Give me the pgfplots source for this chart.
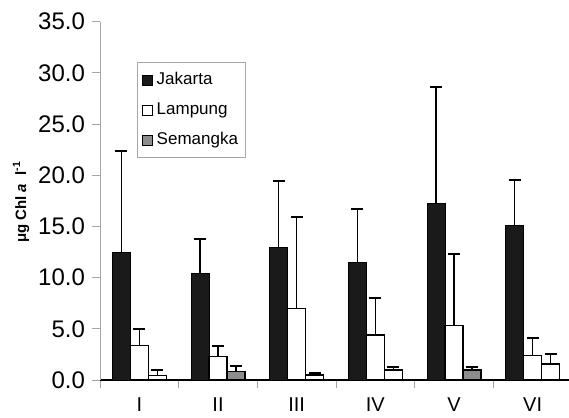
\documentclass[border=0pt]{standalone}
\usepackage{fontspec}
\setmainfont{Liberation Sans}
\usepackage{pgfplots}
\usepackage{pgfplotstable}
\pgfplotsset{compat=1.18}
\definecolor{jak}{HTML}{1A1A1A}
\definecolor{sem}{HTML}{8C8C8C}
\definecolor{axgray}{HTML}{A6A6A6}
\pgfplotstableread{
x y e
1 12.5 9.9
2 10.4 3.4
3 12.9 6.5
4 11.5 5.2
5 17.2 11.45
6 15.1 4.45
}\jakarta
\pgfplotstableread{
x y e
1 3.35 1.63
2 2.30 1.05
3 7.00 8.95
4 4.40 3.60
5 5.35 6.92
6 2.40 1.70
}\lampung
\pgfplotstableread{
x y e
1 0.46 0.48
3 0.50 0.15
4 0.98 0.26
6 1.56 1.00
}\semwhite
\pgfplotstableread{
x y e
2 0.81 0.56
5 0.98 0.26
}\semgrey
\pgfplotsset{sqlegend/.style={legend image code/.code={\draw[##1, line width=0.6pt] (0pt,-2.5pt) rectangle (5pt,2.5pt);}}}
\begin{document}
\begin{tikzpicture}
\begin{axis}[
  scale only axis, width=236pt, height=179.15pt,
  xmin=0.5, xmax=6.5, ymin=0, ymax=35,
  axis x line=bottom, axis y line=left,
  x axis line style={-, black, line width=0.7pt},
  y axis line style={-, axgray, line width=0.5pt},
  ytick={0,5,...,35},
  /pgf/number format/fixed,
  /pgf/number format/fixed zerofill,
  /pgf/number format/precision=1,
  /pgf/number format/assume math mode=true,
  yticklabel style={font=\fontsize{12}{14}\selectfont},
  tick align=outside, major tick length=4pt, minor tick length=4pt,
  xtick={1,...,6}, xticklabels={I,II,III,IV,V,VI},
  minor xtick={0.5,1.5,...,6.5},
  major x tick style={draw=none},
  minor x tick style={axgray, line width=0.5pt},
  ytick style={axgray, line width=0.5pt},
  xticklabel style={font=\fontsize{10}{12}\selectfont, yshift=-1.5pt},
  ylabel={\bfseries μg Chl \textit{a}\; l\textsuperscript{-1}},
  ylabel style={font=\fontsize{7.5}{8}\selectfont, at={(axis description cs:-0.167,0.497)}, anchor=center},
  ybar, bar width=9pt,
  legend style={at={(axis description cs:0.0784,0.8875)}, anchor=north west, draw=axgray, line width=0.5pt,
    font=\fontsize{8.5}{9}\selectfont, row sep=3.5pt, inner xsep=2pt, inner ysep=3pt},
  legend cell align=left,
  error bars/y dir=plus, error bars/y explicit,
  error bars/error bar style={black, line width=0.8pt},
  error bars/error mark options={rotate=90, black, mark size=3pt, line width=1pt},
]
\coordinate (sw) at (rel axis cs:0,0);
\coordinate (ne) at (rel axis cs:1,1);
\addplot[draw=black, fill=jak, line width=0.5pt, bar shift=-9pt, sqlegend] table[x=x, y=y, y error=e] {\jakarta};
\addlegendentry{Jakarta}
\addplot[draw=black, fill=white, line width=0.7pt, bar shift=0pt, sqlegend] table[x=x, y=y, y error=e] {\lampung};
\addlegendentry{Lampung}
\addplot[draw=black, fill=white, line width=0.7pt, bar shift=9pt, forget plot] table[x=x, y=y, y error=e] {\semwhite};
\addplot[draw=black, fill=sem, line width=0.7pt, bar shift=9pt, sqlegend] table[x=x, y=y, y error=e] {\semgrey};
\addlegendentry{Semangka}
\end{axis}
\pgfresetboundingbox
\path[use as bounding box] ([xshift=-50pt, yshift=-18.5pt]sw) rectangle ([xshift=-1.5pt, yshift=10.85pt]ne);
\end{tikzpicture}
\end{document}
